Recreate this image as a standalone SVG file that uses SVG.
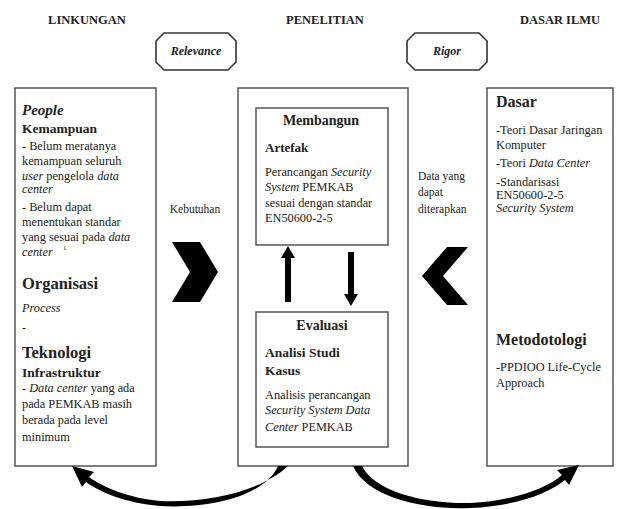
<svg xmlns="http://www.w3.org/2000/svg" width="619" height="509" viewBox="0 0 619 509">
<style>
text{font-family:"Liberation Serif","Times New Roman",serif;fill:#222}
.h{font-size:12.5px;font-weight:bold}
.t{font-size:12.3px}
.b{font-weight:bold}
.i{font-style:italic}
.box{fill:#fff;stroke:#555;stroke-width:1.5}
.oct{fill:#fff;stroke:#333;stroke-width:1.6}
.blk{fill:#000}
</style>
<rect width="619" height="509" fill="#fff"/>
<g id="headers">
<text class="h" x="87" y="24" text-anchor="middle">LINKUNGAN</text>
<text class="h" x="325" y="24" text-anchor="middle">PENELITIAN</text>
<text class="h" x="560" y="24" text-anchor="middle">DASAR ILMU</text>
</g>
<g id="relevance">
<path class="oct" d="M164,33 H228 L236,41 V62 L228,70 H164 L156,62 V41 Z"/>
<text x="196" y="55" text-anchor="middle" class="i b" font-size="12">Relevance</text>
</g>
<g id="rigor">
<path class="oct" d="M415,33 H479 L487,41 V62 L479,70 H415 L407,62 V41 Z"/>
<text x="447" y="55" text-anchor="middle" class="i b" font-size="12">Rigor</text>
</g>
<g id="linkungan">
<rect class="box" x="15" y="88" width="141" height="378"/>
<text x="22" y="115" class="i b" font-size="15">People</text>
<text x="22" y="133" class="b" font-size="13.5">Kemampuan</text>
<text class="t" x="22" y="150">- Belum meratanya</text>
<text class="t" x="22" y="165">kemampuan seluruh</text>
<text class="t" x="22" y="180"><tspan class="i">user</tspan> pengelola <tspan class="i">data</tspan></text>
<text class="t i" x="22" y="193" font-size="10.5">center</text>
<text class="t" x="22" y="211">- Belum dapat</text>
<text class="t" x="22" y="226">menentukan standar</text>
<text class="t" x="22" y="241">yang sesuai pada <tspan class="i">data</tspan></text>
<text class="t i" x="22" y="256" font-size="10.5">center</text>
<text x="63" y="250" font-size="7">1</text>
<text x="22" y="289" class="b" font-size="16.5">Organisasi</text>
<text class="t i" x="22" y="312">Process</text>
<text class="t" x="22" y="331">-</text>
<text x="22" y="358" class="b" font-size="16.5">Teknologi</text>
<text x="22" y="377" class="b" font-size="13.5">Infrastruktur</text>
<text class="t" x="22" y="392">- <tspan class="i">Data center</tspan> yang ada</text>
<text class="t" x="22" y="408">pada PEMKAB masih</text>
<text class="t" x="22" y="424">berada pada level</text>
<text class="t" x="22" y="441">minimum</text>
</g>
<g id="penelitian">
<rect class="box" x="238" y="88" width="170" height="378"/>
</g>
<g id="membangun">
<rect class="box" x="256" y="108" width="132" height="137"/>
<text x="321" y="125" text-anchor="middle" class="b" font-size="14">Membangun</text>
<text x="265" y="152" class="b" font-size="13">Artefak</text>
<text class="t" x="265" y="176">Perancangan <tspan class="i">Security</tspan></text>
<text class="t" x="265" y="191"><tspan class="i">System</tspan> PEMKAB</text>
<text class="t" x="265" y="207">sesuai dengan standar</text>
<text class="t" x="265" y="222">EN50600-2-5</text>
</g>
<g id="evaluasi">
<rect class="box" x="256" y="312" width="132" height="135"/>
<text x="322" y="330" text-anchor="middle" class="b" font-size="14">Evaluasi</text>
<text x="265" y="357" class="b" font-size="13.5">Analisi Studi</text>
<text x="265" y="375" class="b" font-size="13.5">Kasus</text>
<text class="t" x="265" y="399">Analisis perancangan</text>
<text class="t i" x="265" y="414">Security System Data</text>
<text class="t" x="265" y="431"><tspan class="i">Center</tspan> PEMKAB</text>
</g>
<g id="dasar-ilmu">
<rect class="box" x="487" y="88" width="126" height="378"/>
<text x="496" y="107" class="b" font-size="16">Dasar</text>
<text class="t" x="496" y="134">-Teori Dasar Jaringan</text>
<text class="t" x="496" y="149">Komputer</text>
<text class="t" x="496" y="167">-Teori <tspan class="i">Data Center</tspan></text>
<text class="t" x="496" y="186">-Standarisasi</text>
<text class="t" x="496" y="199">EN50600-2-5</text>
<text class="t i" x="496" y="212">Security System</text>
<text x="496" y="345" class="b" font-size="16">Metodotologi</text>
<text class="t" x="496" y="371">-PPDIOO Life-Cycle</text>
<text class="t" x="496" y="387">Approach</text>
</g>
<g id="kebutuhan">
<text x="195" y="213" text-anchor="middle" font-size="11.5">Kebutuhan</text>
</g>
<g id="data-diterapkan">
<text x="418" y="180" font-size="11.5">Data yang</text>
<text x="418" y="196" font-size="11.5">dapat</text>
<text x="418" y="213" font-size="11.5">diterapkan</text>
</g>
<g id="connectors">
<path class="blk" d="M172,242 H200 L218,272 L200,302 H172 L190,272 Z"/>
<path class="blk" d="M468,247 H447 L422,276 L447,305 H468 L443,276 Z"/>
<path class="blk" d="M288,246 L295,258 H291 V302 H285 V258 H281 Z"/>
<path class="blk" d="M348,252 H354 V294 H358 L351,306 L344,294 H348 Z"/>
<path class="blk" d="M278,466 C266,494 215,509 160,506 C125,503 100,492 86,482 L82,487 L72,466 L94,472 L89,477 C103,487 128,498 160,501 C212,503 262,490 288,466 Z"/>
<path class="blk" d="M353,466 C366,496 420,510 470,508 C515,506 548,494 565,480 L569,485 L579,465 L557,470 L562,475 C546,489 512,501 470,503 C425,504 375,492 362,466 Z"/>
</g>
</svg>
